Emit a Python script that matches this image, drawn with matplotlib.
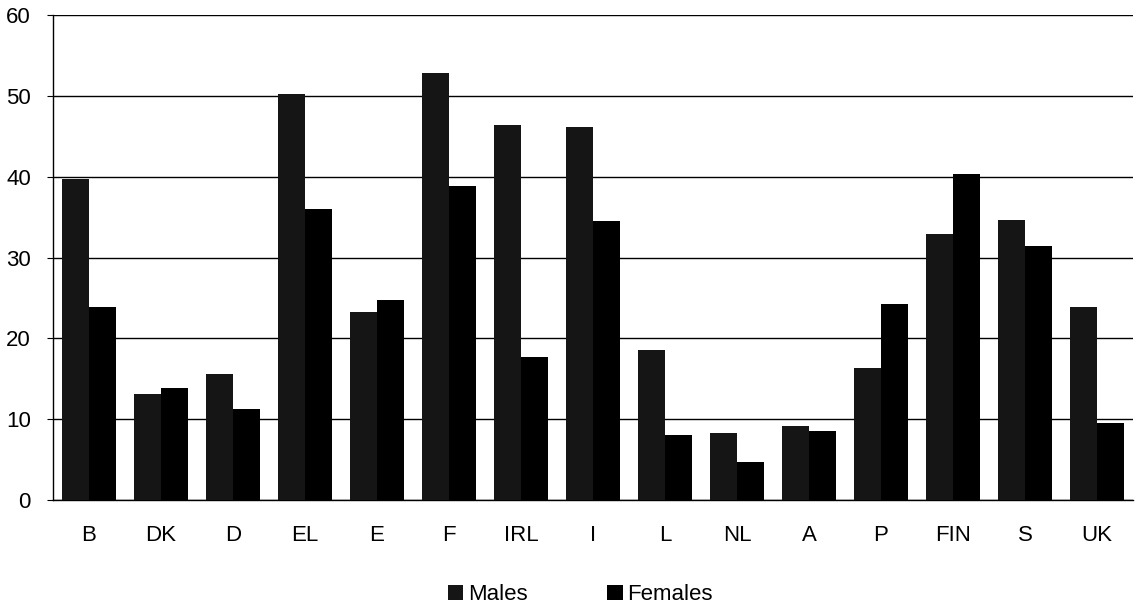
import numpy as np
import matplotlib.pyplot as plt

countries = ['B', 'DK', 'D', 'EL', 'E', 'F', 'IRL', 'I', 'L', 'NL', 'A', 'P', 'FIN', 'S', 'UK']
males = [39.7, 13.1, 15.6, 50.2, 23.3, 52.9, 46.4, 46.1, 18.6, 8.3, 9.2, 16.3, 32.9, 34.7, 23.9]
females = [23.9, 13.9, 11.3, 36.0, 24.75, 38.9, 17.7, 34.5, 8.0, 4.7, 8.5, 24.3, 40.3, 31.4, 9.5]

plt.rcParams['font.family'] = ['Liberation Sans', 'DejaVu Sans']

fig = plt.figure(figsize=(11.38, 6.06), dpi=100)
ax = fig.add_axes([0.0466, 0.175, 0.949, 0.8])

x = np.arange(len(countries))
w = 0.37
ax.bar(x - w / 2, males, w, color='#151515', label='Males', zorder=3)
ax.bar(x + w / 2, females, w, color='#000000', label='Females', zorder=3)

ax.set_xlim(-0.5, len(countries) - 0.5)
ax.set_ylim(0, 60)
ax.set_yticks(range(0, 61, 10))
ax.set_xticks(x)
ax.set_xticklabels(countries)
ax.yaxis.grid(True, color='black', linewidth=1.0, zorder=0)
ax.tick_params(axis='x', length=0, pad=18, labelsize=16)
ax.tick_params(axis='y', length=4, direction='out', pad=12, labelsize=16)
for s in ['top', 'right']:
    ax.spines[s].set_visible(False)
ax.spines['left'].set_linewidth(1.0)
ax.spines['bottom'].set_linewidth(1.0)

fig.legend(loc='lower center', bbox_to_anchor=(0.51, -0.032), ncol=2, frameon=False,
           fontsize=16, handlelength=0.7, handleheight=0.7, handletextpad=0.2,
           columnspacing=3.6)

fig.savefig('out.png', dpi=100)
